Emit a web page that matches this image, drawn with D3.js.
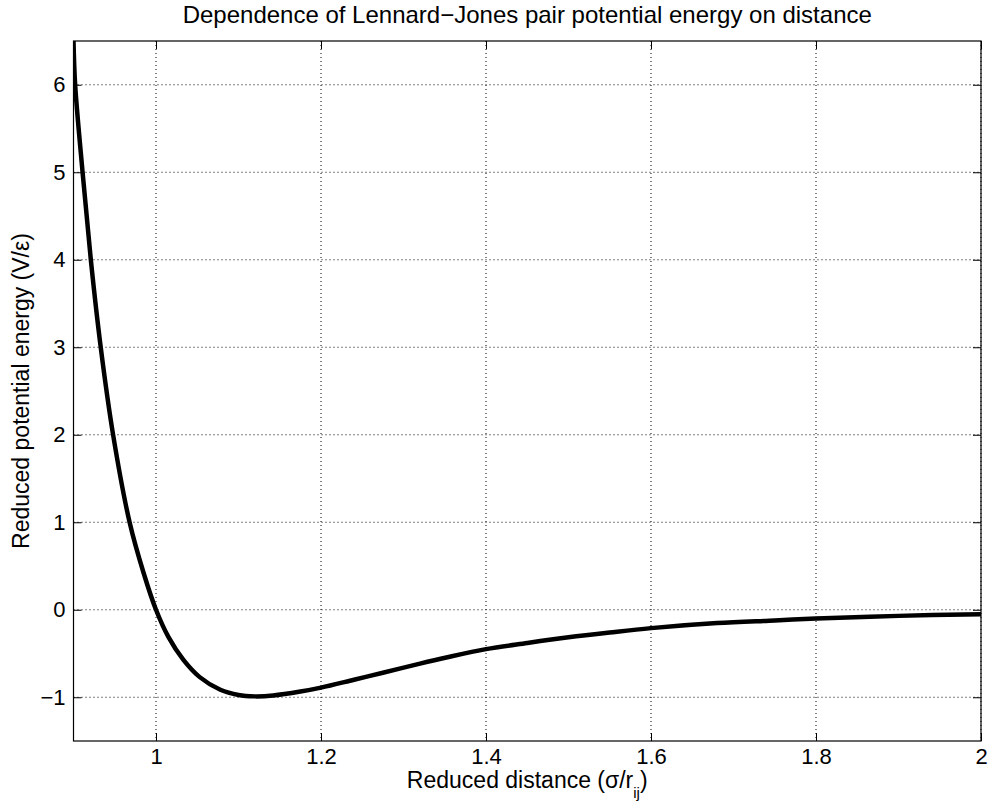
<!DOCTYPE html>
<html>
<head>
<meta charset="utf-8">
<script src="https://cdn.jsdelivr.net/npm/d3@7"></script>
<style>
    body { margin: 0; background: #fff; }
    text { font-family: "Liberation Sans", Arial, Helvetica, sans-serif; fill: #000; }
</style>
</head>
<body>
<div id="chart"></div>
<script>
// values
const distance = [0.900, 0.902, 0.911, 0.921, 0.933, 0.948, 0.968, 0.985, 1.000, 1.015,
                  1.033, 1.053, 1.078, 1.100, 1.120, 1.142, 1.175, 1.200, 1.240, 1.275,
                  1.320, 1.352, 1.400, 1.450, 1.500, 1.550, 1.600, 1.680, 1.750, 1.800,
                  1.900, 2.000];
const energy = [6.50, 6.00, 5.00, 4.00, 3.00, 2.00, 1.00, 0.42, 0.00, -0.31,
                -0.57, -0.77, -0.915, -0.975, -0.99, -0.98, -0.935, -0.89, -0.80, -0.72,
                -0.615, -0.545, -0.45, -0.38, -0.315, -0.26, -0.21, -0.152, -0.122, -0.10,
                -0.07, -0.05];

const xTicks = [1, 1.2, 1.4, 1.6, 1.8, 2];
const yTicks = [-1, 0, 1, 2, 3, 4, 5, 6];
const xDomain = [0.9, 2];
const yDomain = [-1.5, 6.5];

const titleText = "Dependence of Lennard\u2212Jones pair potential energy on distance";

const W = 990, H = 806;
const margin = { top: 41, right: 9, bottom: 65, left: 73.5 };
const width = W - margin.left - margin.right;
const height = H - margin.top - margin.bottom;

let svg = d3.select("#chart").append("svg")
    .attr("width", W)
    .attr("height", H);

let g = svg.append("g")
    .attr("transform", "translate(" + margin.left + "," + margin.top + ")");

let x = d3.scaleLinear().domain(xDomain).range([0, width]);
let y = d3.scaleLinear().domain(yDomain).range([height, 0]);

// dotted grid
let grid = g.append("g");
grid.selectAll("line.vx")
    .data(xTicks)
    .enter()
    .append("line")
    .attr("x1", d => x(d)).attr("x2", d => x(d))
    .attr("y1", 0).attr("y2", height)
    .attr("stroke", "#000")
    .attr("stroke-width", 1)
    .attr("stroke-dasharray", "1,3");
grid.selectAll("line.hy")
    .data(yTicks)
    .enter()
    .append("line")
    .attr("x1", 0).attr("x2", width)
    .attr("y1", d => y(d)).attr("y2", d => y(d))
    .attr("stroke", "#000")
    .attr("stroke-width", 1)
    .attr("stroke-dasharray", "1,3");

const fmt = d3.format("~g");

// axes, ticks pointing inward on all four sides
let xBottom = g.append("g")
    .attr("transform", "translate(0," + height + ")")
    .call(d3.axisBottom(x).tickValues(xTicks).tickSize(-8).tickPadding(7).tickFormat(fmt));
let xTop = g.append("g")
    .call(d3.axisTop(x).tickValues(xTicks).tickSize(-8).tickFormat(""));
let yLeft = g.append("g")
    .call(d3.axisLeft(y).tickValues(yTicks).tickSize(-8).tickPadding(8).tickFormat(fmt));
let yRight = g.append("g")
    .attr("transform", "translate(" + width + ",0)")
    .call(d3.axisRight(y).tickValues(yTicks).tickSize(-8).tickFormat(""));

[xBottom, xTop, yLeft, yRight].forEach(a => {
    a.select(".domain").remove();
    a.selectAll("line").attr("stroke", "#000").attr("stroke-width", 1);
    a.selectAll("text").attr("font-size", 22).attr("font-family", null);
});

// frame
g.append("rect")
    .attr("width", width)
    .attr("height", height)
    .attr("fill", "none")
    .attr("stroke", "#000")
    .attr("stroke-width", 1.2);

// curve
g.append("clipPath").attr("id", "clip")
    .append("rect").attr("width", width).attr("height", height);

let line = d3.line()
    .x(d => x(d[0]))
    .y(d => y(d[1]))
    .curve(d3.curveCatmullRom.alpha(0.5));

g.append("path")
    .datum(d3.zip(distance, energy))
    .attr("clip-path", "url(#clip)")
    .attr("fill", "none")
    .attr("stroke", "#000")
    .attr("stroke-width", 4.5)
    .attr("stroke-linejoin", "round")
    .attr("d", line);

// title
svg.append("text")
    .attr("x", margin.left + width / 2)
    .attr("y", 23)
    .attr("text-anchor", "middle")
    .attr("font-size", 24)
    .text(titleText);

// x label with subscript
let xl = svg.append("text")
    .attr("x", margin.left + width / 2)
    .attr("y", 788)
    .attr("text-anchor", "middle")
    .attr("font-size", 23);
xl.append("tspan").text("Reduced distance (\u03c3/r");
xl.append("tspan").attr("font-size", 15).attr("dy", 10).text("ij");
xl.append("tspan").attr("dy", -10).text(")");

// y label
svg.append("text")
    .attr("transform", "translate(29," + (margin.top + height / 2) + ") rotate(-90)")
    .attr("text-anchor", "middle")
    .attr("font-size", 23)
    .text("Reduced potential energy (V/\u03b5)");
</script>
</body>
</html>
